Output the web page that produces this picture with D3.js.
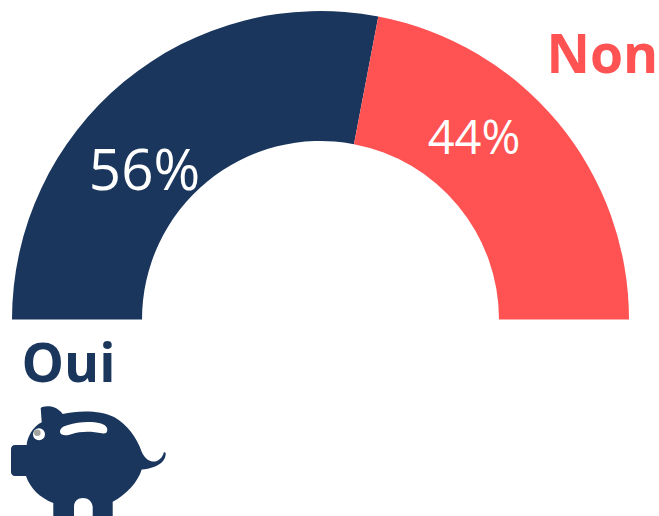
<!DOCTYPE html>
<html>
<head>
<meta charset="utf-8">
<script src="https://cdn.jsdelivr.net/npm/d3@7"></script>
<style>
  html, body { margin: 0; padding: 0; background: #fff; }
  svg { display: block; }
  text { font-family: "Open Sans", sans-serif; }
</style>
</head>
<body>
<div id="chart"></div>
<script>
var categories = ['Oui', 'Non'];
var values = [56, 44];
var colors = ['#1a365d', '#ff5252'];

var width = 659;
var height = 516;
var cx = 320.5;
var cy = 319.5;

var svg = d3.select('#chart')
    .append('svg')
    .attr('width', width)
    .attr('height', height);

//half donut
var pie = d3.pie()
    .sort(null)
    .startAngle(-Math.PI / 2)
    .endAngle(Math.PI / 2);

var arc = d3.arc()
    .innerRadius(178.5)
    .outerRadius(308.5);

var slices = pie(values);

var g = svg.append('g')
    .attr('transform', 'translate(' + cx + ',' + cy + ')');

g.selectAll('path')
    .data(slices)
    .enter()
    .append('path')
    .attr('d', arc)
    .attr('fill', (d, i) => colors[i]);

//value labels
var labelStyle = [
    { x: 144.5, y: 189.5, size: 56.5 },
    { x: 474, y: 153.5, size: 47 }
];

svg.selectAll('text.value')
    .data(values)
    .enter()
    .append('text')
    .attr('class', 'value')
    .attr('x', (d, i) => labelStyle[i].x)
    .attr('y', (d, i) => labelStyle[i].y)
    .attr('text-anchor', 'middle')
    .attr('font-size', (d, i) => labelStyle[i].size)
    .attr('fill', '#fff')
    .text((d) => d + '%');

//category labels
var catStyle = [
    { x: 21.5, y: 382 },
    { x: 546.5, y: 73 }
];

svg.selectAll('text.cat')
    .data(categories)
    .enter()
    .append('text')
    .attr('class', 'cat')
    .attr('x', (d, i) => catStyle[i].x)
    .attr('y', (d, i) => catStyle[i].y)
    .attr('font-size', 53.5)
    .attr('font-weight', 700)
    .attr('fill', (d, i) => colors[i])
    .text((d) => d);

//piggy bank icon
var pig = svg.append('g');

pig.append('path')
    .attr('fill', colors[0])
    .attr('d', 'M40.7 408 C43 406 55 404 62.7 414 C78 410.5 100 410 114 417 C127 424 137 438 141.7 451.7 ' +
        'C145 460 152 463 157 461 C161 459 163 456 164 452 L165.7 453 C166 460 160 468 141.7 469.5 ' +
        'C138 482 126 495 112.7 501.7 L112.7 516 L92.7 516 L92.7 506.7 C92 501 88 498 83 498 ' +
        'C78 498 74 501 74 506.7 L74 516 L53.3 516 L53.3 503 C40 498 30 488 26 476 L15 476 ' +
        'C12.5 476 11 474 11 472 L11 449 C11 447 12.5 445 15 445 L26.7 445 C27 438 33 426 41.7 422.3 Z');

pig.append('path')
    .attr('fill', '#fff')
    .attr('d', 'M60 431.7 C60 428 64 426 68 425 C78 421.5 92 421 100 423.3 C105 424.5 107.3 427 107.3 430 ' +
        'C107.3 433 105 434 102 433.3 C92 431 80 431 72 434 C65 436.5 60 435 60 431.7 Z');

pig.append('circle')
    .attr('cx', 39)
    .attr('cy', 434.3)
    .attr('r', 6)
    .attr('fill', '#fff');

pig.append('circle')
    .attr('cx', 37.3)
    .attr('cy', 432.7)
    .attr('r', 3.3)
    .attr('fill', '#a3a3a0');
</script>
</body>
</html>
